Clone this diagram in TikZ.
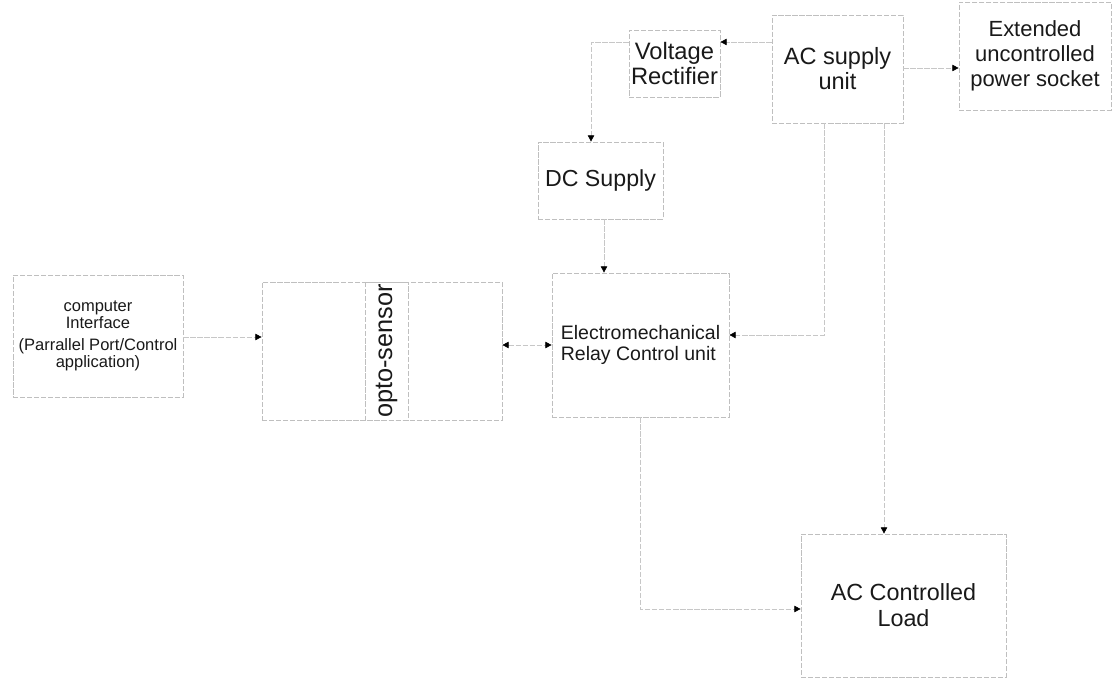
\documentclass[tikz,border=0pt]{standalone}
\usepackage{fontspec}
\setmainfont{Liberation Sans}
\usetikzlibrary{arrows.meta, positioning, calc}

\begin{document}
\begin{tikzpicture}[
    x=0.02cm, y=-0.02cm,
    >={Triangle[length=3.6pt, width=3.6pt, black]},
    block/.style={draw=black!25, line width=0.4pt, dash pattern=on 3pt off 1pt, rectangle, inner sep=0pt, align=center, text=black!90},
    conn/.style={draw=black!22, line width=0.4pt, dash pattern=on 3pt off 1pt},
    fs/.style={font=\fontsize{#1}{#1}\selectfont}
]
\useasboundingbox (0,0) rectangle (1113,678);

% ====================
% Blocchi
% ====================
\node[block, minimum width=3.4cm, minimum height=2.44cm, font=\fontsize{9.4}{8.5}\selectfont] (comp) at (98, 336)
    {computer\\Interface\\[4pt](Parrallel Port/Control\\application)};
\node[block, minimum width=4.8cm, minimum height=2.76cm] (opto) at (382, 351) {};
\node[block, rotate=90, minimum width=2.76cm, minimum height=0.86cm, font=\fontsize{14.4}{15}\selectfont] (optotxt) at (386.5, 351) {opto-sensor};
\node[block, align=left, minimum width=3.54cm, minimum height=2.88cm, font=\fontsize{11.1}{12.3}\selectfont] (relay) at (640.5, 345)
    {Electromechanical\\Relay Control unit};
\node[block, minimum width=2.5cm, minimum height=1.54cm, font=\fontsize{13.2}{14}\selectfont] (dc) at (600.5, 180.5) {DC Supply};
\node[block, minimum width=1.82cm, minimum height=1.34cm, font=\fontsize{13.5}{13.7}\selectfont] (rect) at (674.5, 63.5) {Voltage\\Rectifier};
\node[block, minimum width=2.62cm, minimum height=2.16cm, font=\fontsize{13.4}{14.2}\selectfont] (acs) at (837.5, 69) {AC supply\\unit};
\node[block, minimum width=3.04cm, minimum height=2.16cm, font=\fontsize{12.5}{14.2}\selectfont] (sock) at (1035, 56)
    {Extended\\uncontrolled\\power socket};
\node[block, minimum width=4.1cm, minimum height=2.86cm, font=\fontsize{13.3}{14.8}\selectfont] (load) at (903.5, 605.5) {AC Controlled\\Load};

% ====================
% Quote dei collegamenti
% ====================
\coordinate (ya) at (0, 337);
\coordinate (yb) at (0, 345);
\coordinate (yc) at (0, 42);
\coordinate (yd) at (0, 68);
\coordinate (yg) at (0, 335);
\coordinate (yi) at (0, 609);
\coordinate (xe) at (591, 0);
\coordinate (xf) at (604, 0);
\coordinate (xg) at (824, 0);
\coordinate (xh) at (884, 0);
\coordinate (xi) at (640, 0);

% ====================
% Collegamenti
% ====================
\draw[conn, ->] (comp.east |- ya) -- (opto.west |- ya);
\draw[conn, <->] (opto.east |- yb) -- (relay.west |- yb);
\draw[conn, ->] (acs.west |- yc) -- (rect.east |- yc);
\draw[conn, ->] (acs.east |- yd) -- (sock.west |- yd);
\draw[conn, ->] (rect.west |- yc) -| (xe |- dc.north);
\draw[conn, ->] (xf |- dc.south) -- (xf |- relay.north);
\draw[conn, ->] (xg |- acs.south) |- (relay.east |- yg);
\draw[conn, ->] (xh |- acs.south) -- (xh |- load.north);
\draw[conn, ->] (xi |- relay.south) |- (load.west |- yi);

\end{tikzpicture}
\end{document}
